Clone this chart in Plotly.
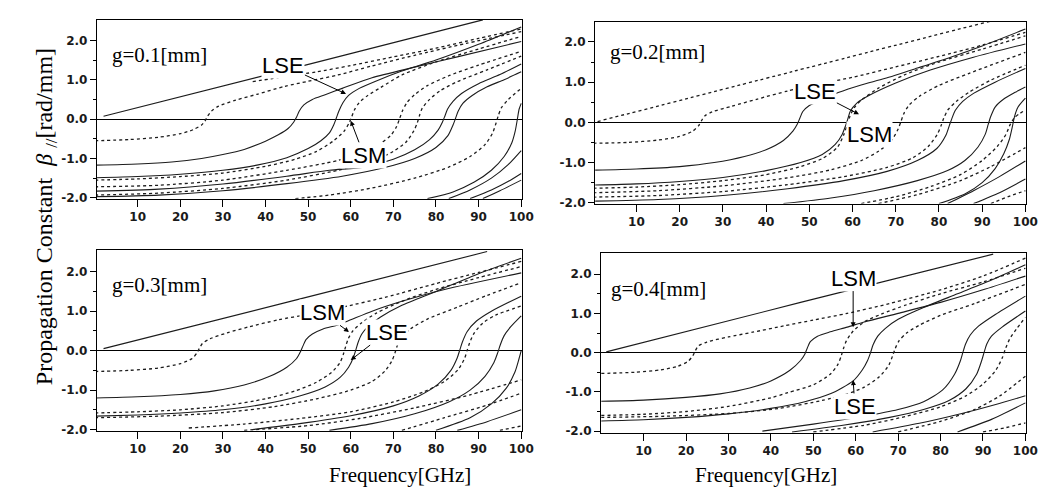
import plotly.graph_objects as go

# ---------------- data: (frequency GHz, beta rad/mm) ----------------
# g = 0.1 mm
G1_LIGHT = [(2, 0.07), (45, 1.25), (91, 2.52)]
G1_A = [(0, -0.55), (8, -0.52), (15, -0.46), (20, -0.37), (23, -0.27), (25, -0.15), (25.8, -0.05), (26.4, 0.07),
        (27.3, 0.2), (29, 0.33), (33, 0.48), (38, 0.63), (44.5, 0.83), (50, 0.96), (57, 1.12), (65, 1.35),
        (75, 1.62), (87, 1.92), (100, 2.22)]
G1_X = [(37, 0.95), (44.5, 1.08), (52, 1.2), (60, 1.36), (70, 1.58), (80, 1.8), (90, 2.05), (100, 2.29)]
G1_B = [(0, -1.17), (10, -1.14), (18, -1.09), (25, -1.0), (30, -0.9), (35, -0.77), (40, -0.56), (43, -0.4),
        (45.3, -0.24), (46.6, -0.08), (47.3, 0.05), (47.9, 0.2), (49, 0.36), (51, 0.5), (54, 0.62), (58, 0.78),
        (65, 1.05), (75, 1.32), (85, 1.58), (100, 1.97)]
G1_C = [(0, -1.49), (10, -1.46), (20, -1.4), (30, -1.3), (38, -1.17), (45, -0.98), (50, -0.75), (53, -0.55),
        (55, -0.35), (56, -0.15), (56.6, 0.02), (57.2, 0.2), (58.2, 0.42), (59.5, 0.6), (62, 0.78), (66, 0.97),
        (72, 1.22), (80, 1.5), (90, 1.9), (100, 2.34)]
G1_D = [(0, -1.55), (10, -1.52), (20, -1.46), (30, -1.37), (40, -1.2), (47, -1.02), (52, -0.82), (56, -0.55),
        (58.5, -0.3), (59.6, -0.1), (60.2, 0.05), (60.8, 0.22), (62, 0.42), (64, 0.6), (67, 0.8), (72, 1.12),
        (80, 1.45), (90, 1.78), (100, 2.1)]
G1_E = [(0, -1.72), (15, -1.68), (30, -1.55), (45, -1.3), (57, -1.05), (63, -0.85), (67, -0.62), (69.5, -0.4),
        (70.8, -0.18), (71.5, 0.02), (72.1, 0.2), (73.2, 0.42), (75, 0.62), (78, 0.85), (83, 1.1), (90, 1.37),
        (100, 1.72)]
G1_F = [(0, -1.93), (15, -1.88), (30, -1.76), (45, -1.55), (57, -1.3), (65, -1.07), (70, -0.82), (73, -0.58),
        (74.8, -0.3), (75.6, -0.1), (76.1, 0.08), (76.8, 0.28), (78.5, 0.5), (81, 0.72), (85, 0.95), (92, 1.25),
        (100, 1.6)]
G1_G = [(0, -1.83), (15, -1.78), (30, -1.65), (45, -1.45), (55, -1.3), (63, -1.22), (70, -1.02), (75, -0.78),
        (78.5, -0.52), (80.5, -0.28), (81.5, -0.08), (82.1, 0.08), (82.7, 0.25), (84, 0.45), (86, 0.65), (90, 0.9),
        (95, 1.13), (100, 1.4)]
G1_H = [(0, -1.97), (15, -1.93), (30, -1.82), (45, -1.64), (58, -1.45), (68, -1.23), (75, -1.0), (80, -0.72),
        (82.8, -0.42), (84, -0.15), (84.6, 0.02), (85.2, 0.2), (86.3, 0.4), (88.5, 0.6), (92, 0.82), (96, 1.0),
        (100, 1.2)]
G1_I = [(47, -2.02), (55, -1.93), (65, -1.75), (75, -1.5), (83, -1.22), (88, -0.95), (91.5, -0.65), (93.3, -0.35),
        (94.1, -0.1), (94.6, 0.08), (95.3, 0.28), (96.8, 0.48), (100, 0.78)]
G1_J = [(78, -2.02), (84, -1.85), (89, -1.6), (93, -1.3), (96, -0.95), (97.8, -0.6), (98.6, -0.3), (99.1, 0.0),
        (99.5, 0.25), (100, 0.4)]
G1_K = [(83, -2.02), (88, -1.8), (93, -1.5), (97, -1.15), (100, -0.8)]
G1_L = [(88, -2.02), (93, -1.8), (97, -1.58), (100, -1.38)]
G1_M = [(91, -2.02), (95, -1.82), (100, -1.55)]

# g = 0.2 mm
G2_LIGHT = [(1, 0.02), (46, 1.26), (92, 2.52)]
G2_A = [(0, -0.52), (8, -0.5), (15, -0.44), (20, -0.35), (23, -0.22), (24.4, -0.08), (25.1, 0.05), (25.8, 0.16),
        (27.5, 0.26), (32, 0.4), (38, 0.58), (45, 0.78), (52, 0.95), (60, 1.12), (70, 1.38), (80, 1.64), (90, 1.92),
        (100, 2.24)]
G2_B = [(0, -1.19), (10, -1.16), (20, -1.1), (28, -1.0), (35, -0.85), (40, -0.68), (44, -0.45), (46.2, -0.22),
        (47.2, -0.05), (47.8, 0.1), (48.5, 0.27), (50, 0.42), (52, 0.52), (56.7, 0.74), (62, 0.93), (67.4, 1.09),
        (75, 1.35), (82.7, 1.62), (90, 1.9), (100, 2.32)]
G2_C = [(0, -1.56), (10, -1.53), (20, -1.47), (30, -1.37), (40, -1.2), (48, -1.0), (53, -0.8), (56, -0.55),
        (57.6, -0.3), (58.4, -0.08), (58.9, 0.08), (59.5, 0.28), (61, 0.48), (64, 0.68), (70, 0.98), (78, 1.3),
        (88, 1.62), (100, 1.95)]
G2_D = [(0, -1.64), (10, -1.61), (20, -1.55), (30, -1.45), (40, -1.3), (48, -1.1), (53, -0.9), (56.5, -0.62),
        (58, -0.3), (58.8, -0.05), (59.4, 0.15), (60.3, 0.35), (62, 0.55), (66, 0.85), (72, 1.18), (80, 1.5),
        (90, 1.82), (100, 2.15)]
G2_E = [(0, -1.75), (15, -1.7), (30, -1.58), (45, -1.38), (55, -1.18), (62, -0.95), (66, -0.72), (69, -0.45),
        (70.5, -0.18), (71.2, 0.02), (71.8, 0.2), (73, 0.42), (75.5, 0.65), (80, 0.92), (87, 1.22), (100, 1.74)]
G2_F = [(0, -1.86), (15, -1.82), (30, -1.72), (45, -1.55), (58, -1.35), (68, -1.12), (74, -0.88), (77.5, -0.6),
        (79.6, -0.3), (80.5, -0.08), (81.1, 0.1), (82, 0.3), (84, 0.52), (87, 0.75), (92, 1.05), (100, 1.42)]
G2_G = [(0, -1.96), (15, -1.92), (30, -1.82), (45, -1.65), (58, -1.45), (68, -1.22), (75, -0.95), (79.5, -0.65),
        (81.6, -0.32), (82.4, -0.08), (83, 0.1), (83.8, 0.3), (85.5, 0.52), (88, 0.72), (93, 1.0), (100, 1.34)]
G2_H = [(44, -2.02), (55, -1.88), (65, -1.7), (75, -1.45), (82, -1.2), (86, -0.95), (89, -0.62), (90.7, -0.3),
        (91.4, -0.05), (92, 0.15), (93, 0.38), (95, 0.58), (97.5, 0.74), (100, 0.88)]
G2_I = [(80, -2.02), (86, -1.78), (90, -1.5), (93, -1.15), (95, -0.78), (96.3, -0.42), (97, -0.1), (97.5, 0.15),
        (98.3, 0.38), (100, 0.6)]
G2_J = [(62, -2.02), (70, -1.85), (78, -1.6), (85, -1.3), (90, -0.95), (93.5, -0.6), (95.5, -0.3), (96.5, -0.05),
        (97.5, 0.12), (100, 0.31)]
G2_K = [(66, -2.02), (75, -1.8), (85, -1.45), (92, -1.1), (100, -0.63)]
G2_L = [(82, -2.02), (88, -1.7), (94, -1.35), (100, -0.96)]
G2_M = [(88, -2.02), (94, -1.75), (100, -1.41)]
G2_N = [(92, -2.02), (96, -1.85), (100, -1.7)]

# g = 0.3 mm
G3_LIGHT = [(2, 0.05), (47, 1.28), (92, 2.51)]
G3_A = [(0, -0.53), (8, -0.5), (15, -0.44), (20, -0.33), (22.8, -0.2), (23.9, -0.06), (24.5, 0.06), (25.2, 0.18),
        (27, 0.3), (31, 0.45), (36, 0.6), (43, 0.78), (50, 0.92), (58, 1.1), (68, 1.35), (80, 1.7), (90, 1.98),
        (100, 2.26)]
G3_B = [(0, -1.2), (10, -1.17), (20, -1.11), (28, -1.02), (35, -0.87), (41, -0.65), (45, -0.42), (47.3, -0.2),
        (48.2, -0.03), (48.8, 0.12), (49.5, 0.28), (51, 0.42), (53.5, 0.55), (57, 0.65), (60, 0.78), (65, 1.0),
        (72, 1.25), (82, 1.55), (100, 1.97)]
G3_C = [(0, -1.58), (10, -1.55), (20, -1.5), (30, -1.4), (40, -1.22), (47, -1.02), (52, -0.8), (55.5, -0.55),
        (57.5, -0.3), (58.3, -0.08), (58.8, 0.1), (59.4, 0.3), (60.5, 0.5), (62.5, 0.7), (66, 0.95), (72, 1.25),
        (80, 1.55), (90, 1.85), (100, 2.13)]
G3_D = [(0, -1.66), (10, -1.63), (20, -1.58), (30, -1.5), (40, -1.35), (48, -1.15), (54, -0.92), (57.5, -0.68),
        (59.5, -0.42), (60.6, -0.18), (61.2, 0.02), (61.7, 0.2), (62.6, 0.42), (64, 0.6), (67, 0.85), (72, 1.15),
        (80, 1.5), (90, 1.95), (100, 2.34)]
G3_E = [(0, -1.7), (15, -1.66), (30, -1.57), (42, -1.42), (52, -1.22), (60, -1.0), (65, -0.78), (68, -0.52),
        (69.7, -0.25), (70.4, -0.05), (71, 0.15), (72, 0.35), (74, 0.55), (78, 0.8), (85, 1.1), (92, 1.4),
        (100, 1.72)]
G3_F = [(22, -1.96), (35, -1.86), (48, -1.72), (60, -1.55), (70, -1.3), (77, -1.05), (82, -0.78), (85.2, -0.48),
        (86.7, -0.2), (87.3, 0.0), (87.9, 0.2), (89, 0.45), (91, 0.7), (94, 0.9), (100, 1.13)]
G3_G = [(37, -2.0), (48, -1.85), (60, -1.65), (70, -1.4), (76, -1.15), (80.5, -0.85), (83.5, -0.5), (85, -0.18),
        (85.6, 0.02), (86.2, 0.22), (87.3, 0.48), (89.5, 0.75), (93, 1.0), (100, 1.38)]
G3_H = [(55, -2.02), (65, -1.85), (75, -1.6), (83, -1.3), (88, -1.0), (91.5, -0.65), (93.6, -0.3), (94.5, -0.05),
        (95.1, 0.15), (96, 0.38), (97.5, 0.6), (100, 0.88)]
G3_I = [(80, -2.02), (88, -1.7), (93, -1.35), (96.5, -0.95), (98.5, -0.55), (99.5, -0.2), (100, 0.0)]
G3_J = [(35, -2.02), (50, -1.9), (62, -1.72), (75, -1.45), (88, -1.12), (100, -0.74)]
G3_K = [(72, -2.02), (82, -1.7), (92, -1.38), (100, -1.08)]
G3_L = [(85, -2.02), (92, -1.8), (100, -1.5)]
G3_M = [(95, -2.02), (100, -1.91)]

# g = 0.4 mm
G4_LIGHT = [(1.2, 0.02), (47, 1.28), (92.4, 2.51)]
G4_A = [(0, -0.53), (8, -0.5), (14, -0.44), (18, -0.35), (20.5, -0.22), (21.6, -0.08), (22.2, 0.05), (22.9, 0.17),
        (24.9, 0.27), (30, 0.4), (35.7, 0.52), (43, 0.68), (50, 0.83), (58, 1.0), (68, 1.25), (80, 1.6), (90, 1.95),
        (100, 2.41)]
G4_B = [(0, -1.24), (10, -1.21), (20, -1.14), (28, -1.05), (35, -0.9), (40, -0.72), (44.5, -0.45), (47, -0.2),
        (48, -0.04), (48.6, 0.12), (49.3, 0.28), (51, 0.42), (54, 0.53), (58, 0.65), (62, 0.78), (70, 1.0),
        (80, 1.28), (90, 1.6), (100, 1.95)]
G4_C = [(0, -1.6), (10, -1.57), (20, -1.5), (30, -1.37), (40, -1.15), (44, -1.02), (50, -0.82), (54, -0.55),
        (55.8, -0.3), (56.6, -0.08), (57.1, 0.1), (57.8, 0.3), (59.4, 0.55), (62, 0.78), (66, 0.98), (72, 1.22),
        (80, 1.5), (90, 1.8), (100, 2.15)]
G4_D = [(0, -1.74), (10, -1.71), (20, -1.65), (30, -1.56), (40, -1.42), (48, -1.25), (54, -1.05), (59.4, -0.72),
        (61.5, -0.45), (62.8, -0.2), (63.5, 0.0), (64.1, 0.2), (65.2, 0.42), (67, 0.62), (70, 0.85), (76, 1.15),
        (84, 1.5), (92, 1.85), (100, 2.24)]
G4_E = [(0, -1.65), (15, -1.62), (30, -1.55), (42, -1.42), (52, -1.22), (58, -1.05), (62, -0.88), (65.5, -0.62),
        (67.8, -0.32), (68.7, -0.08), (69.3, 0.1), (70.2, 0.3), (72, 0.5), (75, 0.7), (80, 0.95), (88, 1.25),
        (100, 1.74)]
G4_F = [(38, -2.0), (50, -1.82), (62, -1.62), (70, -1.45), (76, -1.25), (80.5, -0.95), (83.3, -0.55), (84.7, -0.2),
        (85.3, 0.02), (85.9, 0.22), (87, 0.45), (89, 0.68), (93, 0.98), (100, 1.44)]
G4_G = [(45, -2.02), (57, -1.85), (68, -1.65), (76, -1.45), (82, -1.22), (86, -0.92), (88.5, -0.55), (89.7, -0.2),
        (90.3, 0.02), (90.9, 0.22), (92, 0.42), (94.5, 0.65), (100, 1.06)]
G4_H = [(50, -2.02), (62, -1.85), (72, -1.62), (80, -1.38), (86, -1.1), (90, -0.8), (93, -0.45), (94.6, -0.12),
        (95.3, 0.1), (96.3, 0.35), (98, 0.62), (100, 0.9)]
G4_I = [(70, -2.02), (80, -1.75), (88, -1.45), (94, -1.1), (100, -0.6)]
G4_J = [(64, -2.02), (75, -1.8), (85, -1.55), (93, -1.32), (100, -1.1)]
G4_K = [(84, -2.02), (92, -1.7), (100, -1.28)]
G4_L = [(90, -2.02), (95, -1.92), (100, -1.79)]

X_TICKS = [10, 20, 30, 40, 50, 60, 70, 80, 90, 100]
Y_TICKS = [-2.0, -1.0, 0.0, 1.0, 2.0]
GAP_LABELS = ["g=0.1[mm]", "g=0.2[mm]", "g=0.3[mm]", "g=0.4[mm]"]

# ---------------- styling / assembly ----------------
S, D = "solid", "dot"
PANELS = [
    [(G1_LIGHT, S), (G1_A, D), (G1_X, D), (G1_B, S), (G1_C, S), (G1_D, D), (G1_E, D), (G1_F, D), (G1_G, S),
     (G1_H, S), (G1_I, D), (G1_J, S), (G1_K, S), (G1_L, S), (G1_M, S)],
    [(G2_LIGHT, D), (G2_A, D), (G2_B, S), (G2_C, S), (G2_D, D), (G2_E, D), (G2_F, D), (G2_G, S), (G2_H, S),
     (G2_I, S), (G2_J, D), (G2_K, D), (G2_L, S), (G2_M, S), (G2_N, D)],
    [(G3_LIGHT, S), (G3_A, D), (G3_B, S), (G3_C, D), (G3_D, S), (G3_E, D), (G3_F, D), (G3_G, S), (G3_H, S),
     (G3_I, S), (G3_J, D), (G3_K, D), (G3_L, S), (G3_M, D)],
    [(G4_LIGHT, S), (G4_A, D), (G4_B, S), (G4_C, D), (G4_D, S), (G4_E, D), (G4_F, S), (G4_G, S), (G4_H, D),
     (G4_I, D), (G4_J, S), (G4_K, S), (G4_L, D)],
]

W, H = 1052, 488
# pixel boxes of the four plot areas: left, right, top, bottom
BOXES = [(90, 520, 12, 193), (594, 1030, 14, 198), (90, 520, 245, 428), (600, 1030, 248, 430)]
XRANGES = [[0.46, 100.2], [0.46, 100.2], [0.46, 100.2], [0.0, 100.2]]
YRANGES = [[-2.02, 2.52], [-2.02, 2.50], [-2.03, 2.55], [-2.04, 2.54]]

fig = go.Figure()
INK = "#1c1c1c"
for i, curves in enumerate(PANELS):
    xa = "x" if i == 0 else f"x{i+1}"
    ya = "y" if i == 0 else f"y{i+1}"
    for pts, dash in curves:
        fig.add_trace(go.Scatter(
            x=[p[0] for p in pts], y=[p[1] for p in pts], mode="lines",
            line=dict(color=INK, width=1.1 if dash == S else 1.3, dash=dash, shape="spline", smoothing=0.7),
            xaxis=xa, yaxis=ya, hoverinfo="skip", showlegend=False))

layout = dict(width=W, height=H, margin=dict(l=0, r=0, t=0, b=0),
              paper_bgcolor="white", plot_bgcolor="white")
tickfont = dict(family="DejaVu Sans", size=12, color="#1a1a1a", weight="bold")
for i, (l, r, t, b) in enumerate(BOXES):
    sfx = "" if i == 0 else str(i + 1)
    layout["xaxis" + sfx] = dict(
        domain=[l / W, r / W], range=XRANGES[i], anchor="y" + sfx,
        tickmode="array", tickvals=X_TICKS, ticktext=[str(v) for v in X_TICKS],
        ticks="outside", ticklen=7, tickwidth=1, tickcolor="black", ticklabelstandoff=0,
        showline=True, linecolor="black", linewidth=1.2, mirror=True,
        showgrid=False, zeroline=False, tickfont=tickfont)
    layout["yaxis" + sfx] = dict(
        domain=[1 - b / H, 1 - t / H], range=YRANGES[i], anchor="x" + sfx,
        tickmode="array", tickvals=Y_TICKS, ticktext=[f"{v:.1f}" for v in Y_TICKS],
        ticks="outside", ticklen=6, tickwidth=1, tickcolor="black",
        minor=dict(tickmode="array", tickvals=[-1.5, -0.5, 0.5, 1.5], ticks="outside", ticklen=3,
                   tickcolor="black", showgrid=False),
        showline=True, linecolor="black", linewidth=1.2, mirror=True,
        showgrid=False, zeroline=True, zerolinecolor="black", zerolinewidth=1.2, tickfont=tickfont)
fig.update_layout(**layout)

serif = "Liberation Serif, Times New Roman, serif"
sans = "Liberation Sans, Arial, sans-serif"
LABEL_POS = [(15.2, 1.62), (14.8, 1.74), (15.2, 1.67), (13.6, 1.61)]
anns = []
for i, (gx, gy) in enumerate(LABEL_POS):
    sfx = "" if i == 0 else str(i + 1)
    anns.append(dict(x=gx, y=gy, xref="x" + sfx, yref="y" + sfx, text=GAP_LABELS[i], showarrow=False,
                     font=dict(family=serif, size=21, color="black")))

# mode labels: (panel, text, text x, text y, tip x, tip y)
MODE_LABELS = [
    (0, "LSE", 44.2, 1.37, 58.9, 0.64), (0, "LSM", 63.1, -0.92, 60.0, -0.04),
    (1, "LSE", 51.4, 0.76, 61.5, 0.2), (1, "LSM", 64.0, -0.30, None, None),
    (2, "LSM", 53.4, 0.97, 59.6, 0.47), (2, "LSE", 68.5, 0.47, 60.0, -0.24),
    (3, "LSM", 59.4, 1.9, 59.4, 0.65), (3, "LSE", 59.8, -1.37, 59.4, -0.7),
]
for p, txt, tx, ty, ax_, ay_ in MODE_LABELS:
    sfx = "" if p == 0 else str(p + 1)
    a = dict(text=txt, font=dict(family=sans, size=22, color="black"), bgcolor="white", borderpad=0,
             xref="x" + sfx, yref="y" + sfx)
    if ax_ is None:
        a.update(x=tx, y=ty, showarrow=False)
    else:
        a.update(x=ax_, y=ay_, ax=tx, ay=ty, axref="x" + sfx, ayref="y" + sfx, showarrow=True,
                 arrowhead=2, arrowsize=1, arrowwidth=1, arrowcolor="black", standoff=0)
    anns.append(a)

anns.append(dict(x=22 / W, y=1 - 211 / H, xref="paper", yref="paper", textangle=-90, showarrow=False,
                 text="Propagation Constant  <i>β</i> <sub>//</sub>[rad/mm]",
                 font=dict(family=serif, size=24, color="black")))
anns.append(dict(x=323 / W, y=0, xref="paper", yref="paper", yanchor="bottom", yshift=1, showarrow=False,
                 text="Frequency[GHz]", font=dict(family=serif, size=21, color="black")))
anns.append(dict(x=841 / W, y=0, xref="paper", yref="paper", yanchor="bottom", yshift=1, showarrow=False,
                 text="Frequency[GHz]", font=dict(family=serif, size=21, color="black")))
fig.update_layout(annotations=anns)

fig.write_html("out.html")
